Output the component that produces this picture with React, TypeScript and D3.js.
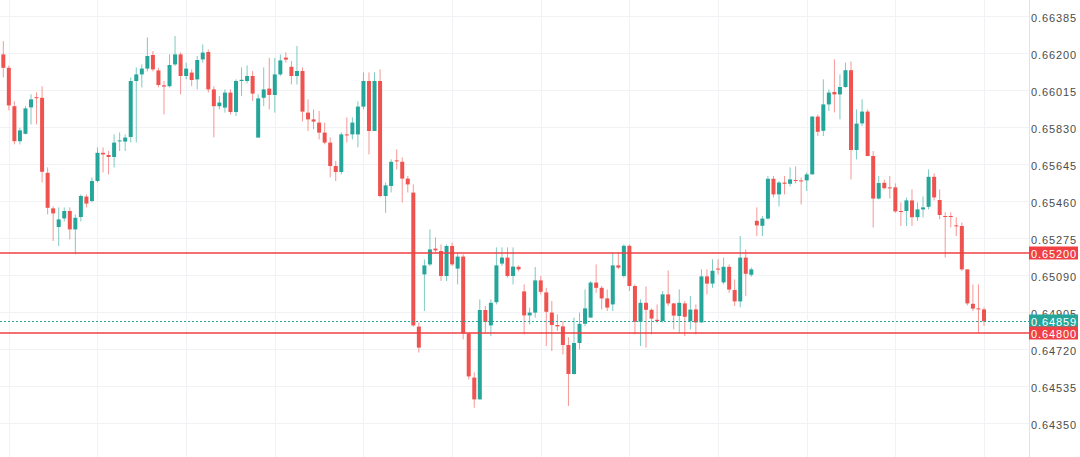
import React from 'react';
import * as d3 from 'd3';

const W = 1080;
const H = 457;

const open = [
  0.66193, 0.66126, 0.65934, 0.65759, 0.65796, 0.65928, 0.65979, 0.65976, 0.65601, 0.65423,
  0.65330, 0.65373, 0.65410, 0.65318, 0.65380, 0.65482, 0.65460, 0.65560, 0.65701, 0.65690,
  0.65680, 0.65758, 0.65757, 0.65780, 0.66060, 0.66093, 0.66122, 0.66190, 0.66113, 0.66038,
  0.66034, 0.66143, 0.66193, 0.66085, 0.66102, 0.66068, 0.66168, 0.66205, 0.66018, 0.65934,
  0.65927, 0.66002, 0.65905, 0.66060, 0.66060, 0.66085, 0.65777, 0.65976, 0.66022, 0.65990,
  0.66093, 0.66177, 0.66131, 0.66085, 0.66110, 0.65902, 0.65868, 0.65852, 0.65802, 0.65752,
  0.65635, 0.65605, 0.65793, 0.65793, 0.65793, 0.65932, 0.66060, 0.65810, 0.66060, 0.65485,
  0.65535, 0.65663, 0.65656, 0.65572, 0.65502, 0.64832, 0.65093, 0.65143, 0.65222, 0.65210,
  0.65085, 0.65235, 0.65122, 0.65182, 0.64798, 0.64577, 0.64468, 0.64915, 0.64838, 0.64954,
  0.65147, 0.65177, 0.65085, 0.65131, 0.65008, 0.64888, 0.64902, 0.65063, 0.65003, 0.64902,
  0.64840, 0.64833, 0.64740, 0.64595, 0.64750, 0.64846, 0.64877, 0.65052, 0.65026, 0.64973,
  0.64943, 0.65138, 0.65085, 0.65236, 0.65035, 0.64856, 0.64951, 0.64916, 0.64866, 0.64860,
  0.64993, 0.64948, 0.64885, 0.64948, 0.64860, 0.64918, 0.64853, 0.65083, 0.65047, 0.65122,
  0.65053, 0.65131, 0.65015, 0.64958, 0.65177, 0.65091, 0.65361, 0.65336, 0.65372, 0.65571,
  0.65493, 0.65552, 0.65546, 0.65565, 0.65563, 0.65563, 0.65593, 0.65882, 0.65811, 0.65943,
  0.66005, 0.65993, 0.66030, 0.66114, 0.65715, 0.65848, 0.65907, 0.65685, 0.65472, 0.65551,
  0.65528, 0.65528, 0.65410, 0.65410, 0.65463, 0.65379, 0.65418, 0.65431, 0.65581, 0.65465,
  0.65385, 0.65385, 0.65338, 0.65335, 0.65118, 0.64946, 0.64923, 0.64918,
];

const close = [
  0.66126, 0.65938, 0.65759, 0.65813, 0.65923, 0.65968, 0.65974, 0.65606, 0.65426, 0.65398,
  0.65368, 0.65410, 0.65318, 0.65376, 0.65485, 0.65447, 0.65560, 0.65701, 0.65693, 0.65680,
  0.65752, 0.65763, 0.65777, 0.66060, 0.66093, 0.66122, 0.66185, 0.66118, 0.66040, 0.66032,
  0.66140, 0.66193, 0.66085, 0.66122, 0.66065, 0.66165, 0.66202, 0.66018, 0.65934, 0.65952,
  0.66002, 0.65905, 0.66060, 0.66066, 0.66085, 0.65997, 0.65973, 0.66018, 0.65990, 0.66093,
  0.66163, 0.66167, 0.66085, 0.66110, 0.65907, 0.65868, 0.65857, 0.65802, 0.65752, 0.65635,
  0.65605, 0.65793, 0.65790, 0.65852, 0.65932, 0.66060, 0.65810, 0.66060, 0.65485, 0.65538,
  0.65656, 0.65660, 0.65572, 0.65543, 0.64838, 0.64727, 0.65138, 0.65218, 0.65213, 0.65085,
  0.65235, 0.65143, 0.65182, 0.64798, 0.64583, 0.64468, 0.64915, 0.64855, 0.64951, 0.65138,
  0.65177, 0.65085, 0.65132, 0.65118, 0.64888, 0.64902, 0.65063, 0.65006, 0.64906, 0.64840,
  0.64833, 0.64740, 0.64595, 0.64750, 0.64846, 0.64923, 0.65052, 0.65026, 0.64973, 0.64927,
  0.65138, 0.65127, 0.65236, 0.65035, 0.64856, 0.64951, 0.64916, 0.64872, 0.64860, 0.64993,
  0.64948, 0.64887, 0.64951, 0.64881, 0.64917, 0.64853, 0.65083, 0.65047, 0.65111, 0.65117,
  0.65131, 0.65017, 0.64958, 0.65177, 0.65096, 0.65118, 0.65338, 0.65372, 0.65571, 0.65493,
  0.65552, 0.65546, 0.65568, 0.65562, 0.65558, 0.65593, 0.65882, 0.65806, 0.65943, 0.66002,
  0.65993, 0.66030, 0.66114, 0.65715, 0.65847, 0.65907, 0.65685, 0.65472, 0.65550, 0.65524,
  0.65526, 0.65408, 0.65408, 0.65463, 0.65379, 0.65418, 0.65428, 0.65581, 0.65478, 0.65390,
  0.65380, 0.65382, 0.65335, 0.65118, 0.64948, 0.64922, 0.64920, 0.64859,
];

const high = [
  0.66259, 0.66138, 0.65959, 0.65826, 0.65934, 0.65993, 0.66003, 0.66034, 0.65628, 0.65433,
  0.65428, 0.65428, 0.65428, 0.65393, 0.65493, 0.65493, 0.65578, 0.65728, 0.65728, 0.65710,
  0.65793, 0.65803, 0.65793, 0.66078, 0.66128, 0.66143, 0.66278, 0.66210, 0.66126, 0.66060,
  0.66193, 0.66285, 0.66203, 0.66152, 0.66118, 0.66185, 0.66243, 0.66218, 0.66034, 0.65985,
  0.66018, 0.66018, 0.66068, 0.66128, 0.66138, 0.66110, 0.65993, 0.66128, 0.66176, 0.66176,
  0.66193, 0.66203, 0.66160, 0.66235, 0.66128, 0.65968, 0.65918, 0.65910, 0.65852, 0.65778,
  0.65660, 0.65803, 0.65878, 0.65878, 0.65959, 0.66103, 0.66103, 0.66103, 0.66118, 0.65553,
  0.65668, 0.65718, 0.65678, 0.65585, 0.65543, 0.64853, 0.65168, 0.65318, 0.65278, 0.65243,
  0.65243, 0.65252, 0.65203, 0.65193, 0.64801, 0.64603, 0.64968, 0.64935, 0.64968, 0.65228,
  0.65228, 0.65228, 0.65228, 0.65138, 0.65043, 0.64927, 0.65130, 0.65085, 0.65026, 0.64960,
  0.64893, 0.64860, 0.64778, 0.64877, 0.64902, 0.65018, 0.65060, 0.65143, 0.65035, 0.65018,
  0.65203, 0.65203, 0.65243, 0.65243, 0.65043, 0.64968, 0.65033, 0.64923, 0.64943, 0.65010,
  0.65113, 0.64951, 0.65018, 0.64960, 0.64985, 0.64943, 0.65118, 0.65118, 0.65168, 0.65168,
  0.65177, 0.65143, 0.65068, 0.65285, 0.65218, 0.65127, 0.65428, 0.65385, 0.65585, 0.65585,
  0.65560, 0.65585, 0.65628, 0.65633, 0.65578, 0.65603, 0.65885, 0.65893, 0.66068, 0.66018,
  0.66168, 0.66093, 0.66152, 0.66158, 0.65918, 0.65968, 0.65918, 0.65710, 0.65585, 0.65568,
  0.65585, 0.65548, 0.65453, 0.65477, 0.65518, 0.65453, 0.65483, 0.65618, 0.65598, 0.65518,
  0.65404, 0.65403, 0.65378, 0.65353, 0.65118, 0.65043, 0.65043, 0.64928,
];

const low = [
  0.66078, 0.65913, 0.65743, 0.65743, 0.65793, 0.65843, 0.65843, 0.65553, 0.65393, 0.65260,
  0.65235, 0.65358, 0.65268, 0.65193, 0.65358, 0.65428, 0.65453, 0.65553, 0.65603, 0.65593,
  0.65628, 0.65710, 0.65710, 0.65753, 0.65753, 0.66028, 0.66108, 0.66108, 0.66028, 0.65893,
  0.66028, 0.66135, 0.65993, 0.66068, 0.66034, 0.66018, 0.66152, 0.66002, 0.65778, 0.65918,
  0.65902, 0.65893, 0.65885, 0.65985, 0.66048, 0.65960, 0.65777, 0.65934, 0.65918, 0.65902,
  0.66085, 0.66152, 0.66043, 0.66043, 0.65858, 0.65810, 0.65818, 0.65768, 0.65743, 0.65578,
  0.65560, 0.65593, 0.65753, 0.65768, 0.65728, 0.65918, 0.65693, 0.65810, 0.65478, 0.65401,
  0.65503, 0.65618, 0.65453, 0.65503, 0.64833, 0.64702, 0.64910, 0.65135, 0.65203, 0.65060,
  0.65060, 0.65135, 0.65043, 0.64768, 0.64568, 0.64426, 0.64468, 0.64803, 0.64784, 0.64943,
  0.65135, 0.65077, 0.65043, 0.65108, 0.64793, 0.64843, 0.64877, 0.64993, 0.64735, 0.64710,
  0.64810, 0.64693, 0.64435, 0.64593, 0.64718, 0.64835, 0.64877, 0.65001, 0.64918, 0.64910,
  0.64910, 0.65118, 0.65077, 0.65010, 0.64793, 0.64735, 0.64727, 0.64793, 0.64852, 0.64852,
  0.64935, 0.64818, 0.64801, 0.64785, 0.64818, 0.64793, 0.64851, 0.64993, 0.65026, 0.65093,
  0.65043, 0.65001, 0.64935, 0.64928, 0.64985, 0.65081, 0.65285, 0.65285, 0.65368, 0.65478,
  0.65433, 0.65493, 0.65533, 0.65548, 0.65443, 0.65510, 0.65593, 0.65785, 0.65785, 0.65910,
  0.65903, 0.65868, 0.66026, 0.65568, 0.65668, 0.65835, 0.65683, 0.65327, 0.65468, 0.65518,
  0.65473, 0.65401, 0.65335, 0.65335, 0.65335, 0.65360, 0.65378, 0.65418, 0.65463, 0.65368,
  0.65177, 0.65328, 0.65285, 0.65110, 0.64938, 0.64910, 0.64801, 0.64835,
];

const tickValues = [
  0.66385, 0.662, 0.66015, 0.6583, 0.65645, 0.6546, 0.65275, 0.6509, 0.64905, 0.6472, 0.64535,
  0.6435, 0.64165,
];
const levelLines = [0.652, 0.648];
const lastPrice = 0.64859;

const UP = '#26a69a';
const DOWN = '#ef5350';
const LEVEL = 'rgb(240, 64, 68)';
const GRID = '#f1f2f5';
const FONT = '"Liberation Sans", Arial, Helvetica, sans-serif';

export default function App() {
  const n = open.length;
  const axisX = 1029;
  const x = d3.scaleLinear().domain([0, n - 1]).range([3.3, 984]);
  const y = d3.scaleLinear().domain([0.6435, 0.66385]).range([423, 16]);
  const fmt = d3.format('.5f');
  const bodyW = 4;
  const idx = d3.range(n);
  const vGrid = idx.filter((i) => i % 16 === 1);

  const tag = (v: number, color: string, key: string) => {
    const yy = Math.round(y(v));
    return (
      <g key={key}>
        <rect x={axisX} y={yy - 6.5} width={49} height={13} fill={color} />
        <text
          x={axisX + 2}
          y={yy + 0.5}
          fill="#ffffff"
          fontSize={11}
          fontFamily={FONT}
          letterSpacing={0.9}
          dominantBaseline="central"
        >
          {fmt(v)}
        </text>
      </g>
    );
  };

  return (
    <svg
      width={W}
      height={H}
      style={{ position: 'fixed', left: 0, top: 0, background: '#ffffff', display: 'block' }}
    >
      <rect x={0} y={0} width={W} height={H} fill="#ffffff" />
      {tickValues.map((t) => (
        <line
          key={'hg' + t}
          x1={0}
          x2={axisX}
          y1={Math.round(y(t)) + 0.5}
          y2={Math.round(y(t)) + 0.5}
          stroke={GRID}
          strokeWidth={1}
        />
      ))}
      {vGrid.map((i) => (
        <line
          key={'vg' + i}
          x1={Math.round(x(i)) + 0.5}
          x2={Math.round(x(i)) + 0.5}
          y1={0}
          y2={H}
          stroke={GRID}
          strokeWidth={1}
        />
      ))}
      {idx.map((i) => {
        const up = close[i] >= open[i];
        const c = up ? UP : DOWN;
        const cx = x(i);
        const top = y(Math.max(open[i], close[i]));
        const bot = y(Math.min(open[i], close[i]));
        return (
          <g key={'c' + i}>
            <line
              x1={cx}
              x2={cx}
              y1={y(high[i])}
              y2={y(low[i])}
              stroke={c}
              strokeOpacity={0.6}
              strokeWidth={1}
            />
            <rect
              x={cx - bodyW / 2}
              y={top}
              width={bodyW}
              height={Math.max(1, bot - top)}
              fill={c}
            />
          </g>
        );
      })}
      {levelLines.map((v) => (
        <rect
          key={'lv' + v}
          x={0}
          y={y(v) - 0.75}
          width={axisX}
          height={1.5}
          fill={LEVEL}
        />
      ))}
      <line
        x1={0}
        x2={axisX}
        y1={Math.round(y(lastPrice)) + 0.5}
        y2={Math.round(y(lastPrice)) + 0.5}
        stroke={UP}
        strokeWidth={1}
        strokeDasharray="2,2"
      />
      <line x1={axisX + 0.5} x2={axisX + 0.5} y1={0} y2={H} stroke="#e0e3eb" strokeWidth={1} />
      {tickValues.map((t) => (
        <text
          key={'tl' + t}
          x={axisX + 2}
          y={y(t) + 1.5}
          fill="#4c4c4c"
          fontSize={11}
          fontFamily={FONT}
          letterSpacing={0.9}
          dominantBaseline="central"
        >
          {fmt(t)}
        </text>
      ))}
      {tag(levelLines[0], LEVEL, 'tag1')}
      {tag(lastPrice, UP, 'tag2')}
      {tag(levelLines[1], LEVEL, 'tag3')}
    </svg>
  );
}
